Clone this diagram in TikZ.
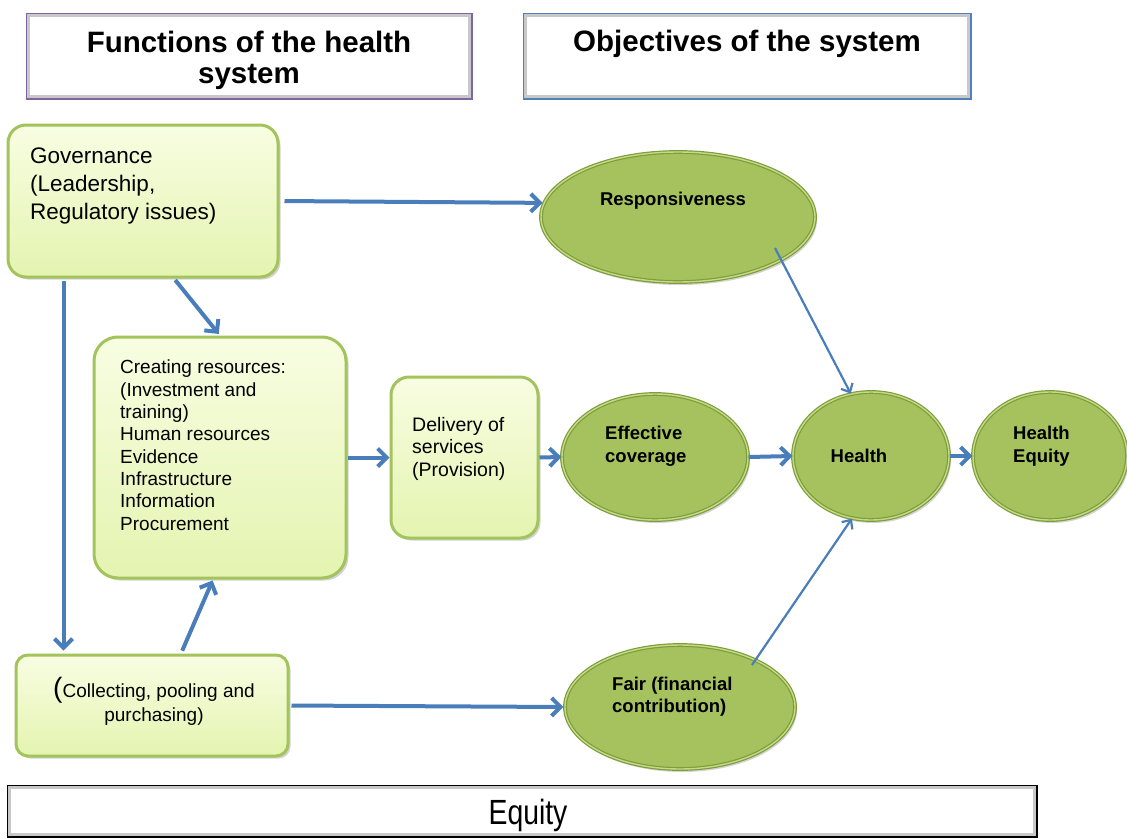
\documentclass[tikz,border=0pt]{standalone}
\usepackage{fontspec}
\setmainfont{Liberation Sans}
\newfontfamily\narrowfont[FakeStretch=0.81]{Liberation Sans}
\usetikzlibrary{arrows.meta,shapes.geometric,shadows,calc}
\definecolor{arrowblue}{HTML}{4A7EBB}
\definecolor{boxgreen}{HTML}{A3C45C}
\definecolor{boxtop}{HTML}{F8FDE2}
\definecolor{boxbot}{HTML}{E4F4B0}
\definecolor{ellfill}{HTML}{A6C25F}
\definecolor{ellborder}{HTML}{7E9C3A}
\definecolor{ellring}{HTML}{C3DB86}
\definecolor{hpurple}{HTML}{8064A2}
\definecolor{hblue}{HTML}{4F81BD}
\definecolor{bevel}{HTML}{C8C8C8}
\begin{document}
\begin{tikzpicture}[x=1pt,y=-1pt,
  fbox/.style={draw=boxgreen, line width=3pt, top color=boxtop, bottom color=boxbot,
    rounded corners=#1, inner sep=0pt,
    drop shadow={opacity=0.35,shadow xshift=2.5pt,shadow yshift=-2.5pt}},
  obj/.style={ellipse, draw=ellborder, line width=1.2pt, double=ellring, double distance=1.4pt,
    fill=ellfill, inner sep=0pt,
    drop shadow={opacity=0.35,shadow xshift=2pt,shadow yshift=-3pt}},
  hdr/.style={rectangle, line width=3pt, fill=white, inner sep=0pt},
  bevelline/.style={draw=bevel, line width=2.5pt},
  hdrtext/.style={font=\bfseries\fontsize{29.5}{31}\selectfont, align=center, anchor=base, inner sep=0pt},
  boxtext/.style={align=left, anchor=base west, inner sep=0pt},
  objtext/.style={font=\bfseries\fontsize{18.5}{23}\selectfont, align=left, anchor=base west, inner sep=0pt},
  arr/.style={draw=arrowblue, line width=4pt, -{Straight Barb[length=9pt,width=18pt]}},
  thinarr/.style={draw=arrowblue, line width=2.2pt, -{Straight Barb[length=7pt,width=13pt]}}
]
\useasboundingbox (0,0) rectangle (1127,838);

% header boxes
\node[hdr, draw=hpurple, minimum width=444pt, minimum height=84pt] (h1) at (249,56) {};
\draw[bevelline] ([shift={(3pt,-3pt)}]h1.north west) rectangle ([shift={(-3pt,3pt)}]h1.south east);
\node[hdrtext] (h1t) at (249,83.6) {Functions of the health\\system};

\node[hdr, draw=hblue, minimum width=446pt, minimum height=84pt] (h2) at (747,56) {};
\draw[bevelline] ([shift={(3pt,-3pt)}]h2.north west) rectangle ([shift={(-3pt,3pt)}]h2.south east);
\node[hdrtext] (h2t) at (747,51.6) {Objectives of the system};

% equity bar
\node[hdr, draw=black, minimum width=1028pt, minimum height=50pt] (eq) at (522,811) {};
\draw[bevelline] ([shift={(3pt,-3pt)}]eq.north west) rectangle ([shift={(-3pt,3pt)}]eq.south east);
\node[anchor=base, inner sep=0pt, font=\narrowfont\fontsize{35}{35}\selectfont] (eqt) at (528,824.5) {Equity};

% function boxes
\node[fbox=18pt, minimum width=270pt, minimum height=152pt] (gov) at (143,201) {};
\node[boxtext, font=\fontsize{22.5}{28}\selectfont] (govt) at (30,219)
  {Governance\\(Leadership,\\Regulatory issues)};

\node[fbox=24pt, minimum width=252pt, minimum height=241pt] (cre) at (220,457.5) {};
\node[boxtext, font=\fontsize{19}{22.3}\selectfont] (cret) at (120,530)
  {Creating resources:\\(Investment and\\training)\\Human resources\\Evidence\\Infrastructure\\Information\\Procurement};

\node[fbox=18pt, minimum width=147pt, minimum height=161pt] (del) at (464.5,457.5) {};
\node[boxtext, font=\fontsize{19.5}{22.5}\selectfont] (delt) at (412,476)
  {Delivery of\\services\\(Provision)};

\node[fbox=12pt, minimum width=272pt, minimum height=101pt] (col) at (152,705.5) {};
\node[align=center, anchor=base, inner sep=0pt, font=\fontsize{19}{24}\selectfont] (colt) at (154,721)
  {{\fontsize{28}{28}\selectfont(}Collecting, pooling and\\purchasing)};

% objective ellipses
\node[obj, minimum width=274pt, minimum height=130pt] (resp) at (678,217) {};
\node[objtext, anchor=base] (respt) at (673,205) {Responsiveness};

\node[obj, minimum width=186pt, minimum height=126pt] (eff) at (655,457) {};
\node[objtext] (efft) at (605,462) {Effective\\coverage};

\node[obj, minimum width=156pt, minimum height=128pt] (hea) at (871,456) {};
\node[objtext, anchor=base] (heat) at (859,462) {Health};

\node[obj, minimum width=154pt, minimum height=128pt] (heq) at (1050,456) {};
\node[objtext] (heqt) at (1013,462) {Health\\Equity};

\node[obj, minimum width=230pt, minimum height=124pt] (fair) at (680,707) {};
\node[objtext, font=\bfseries\fontsize{18.5}{22}\selectfont] (fairt) at (612,712) {Fair (financial\\contribution)};

% connectors
\draw[arr, shorten <=5pt, shorten >=1pt] (gov.east) -- (resp.174);
\draw[arr, shorten <=2pt, shorten >=2pt] ([xshift=31pt]gov.south) -- (cre.north);
\draw[arr, shorten <=2pt, shorten >=3pt] ([xshift=57pt]gov.south west) -- ([xshift=57pt]gov.south west |- col.north);
\draw[arr, shorten <=3pt, shorten >=1pt] ([xshift=29pt]col.north) -- ([xshift=-7pt]cre.south);
\draw[arr] (cre.east) -- (del.west);
\draw[arr] (del.east) -- (eff.west);
\draw[arr] (eff.east) -- (hea.west);
\draw[arr] (hea.east) -- (heq.west);
\draw[arr, shorten <=2pt, shorten >=1pt] (col.east) -- (fair.west);
\draw[thinarr] ([shift={(97pt,-31pt)}]resp.center) -- (hea.108);
\draw[thinarr] ([shift={(72pt,42pt)}]fair.center) -- (hea.-107);
\end{tikzpicture}
\end{document}
